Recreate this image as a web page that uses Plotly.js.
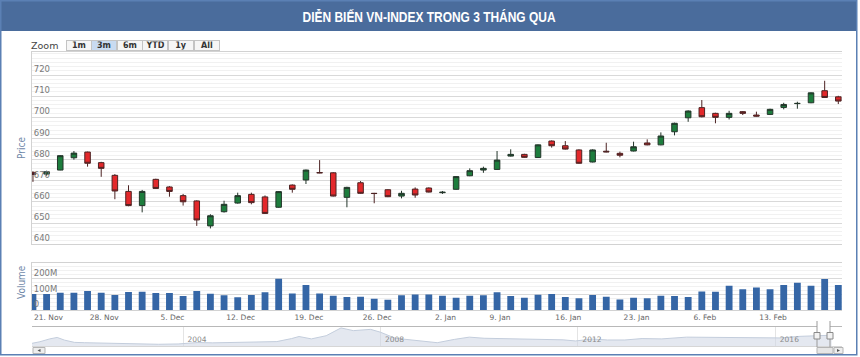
<!DOCTYPE html>
<html><head><meta charset="utf-8">
<script src="https://cdn.plot.ly/plotly-3.0.1.min.js"></script>
<style>html,body{margin:0;padding:0;background:#fff;}#chart{width:860px;height:357px;}</style>
</head><body><div id="chart"></div>
<script>
// ---------- DATA ----------
const dates = [
 '2016-11-21','2016-11-22','2016-11-23','2016-11-24','2016-11-25',
 '2016-11-28','2016-11-29','2016-11-30','2016-12-01','2016-12-02',
 '2016-12-05','2016-12-06','2016-12-07','2016-12-08','2016-12-09',
 '2016-12-12','2016-12-13','2016-12-14','2016-12-15','2016-12-16',
 '2016-12-19','2016-12-20','2016-12-21','2016-12-22','2016-12-23',
 '2016-12-26','2016-12-27','2016-12-28','2016-12-29','2016-12-30',
 '2017-01-03','2017-01-04','2017-01-05','2017-01-06',
 '2017-01-09','2017-01-10','2017-01-11','2017-01-12','2017-01-13',
 '2017-01-16','2017-01-17','2017-01-18','2017-01-19','2017-01-20',
 '2017-01-23','2017-01-24','2017-01-25',
 '2017-02-02','2017-02-03',
 '2017-02-06','2017-02-07','2017-02-08','2017-02-09','2017-02-10',
 '2017-02-13','2017-02-14','2017-02-15','2017-02-16','2017-02-17',
 '2017-02-20'
];
const openP = [674.0,673.2,675.1,680.9,683.6,678.6,672.6,665.0,658.3,670.7,
 667.1,663.0,660.5,648.7,655.4,659.5,663.6,662.4,657.5,668.0,
 670.4,673.9,673.8,662.2,669.1,664.1,665.8,662.8,666.1,666.6,
 664.4,666.0,672.4,675.1,675.4,681.7,682.5,681.0,688.8,686.6,
 684.6,678.9,684.0,683.0,684.1,687.9,687.0,693.2,699.8,704.6,
 701.9,700.0,702.7,701.1,701.4,704.7,706.5,706.9,712.6,709.7];
const highP = [674.5,674.8,682.2,684.1,683.8,679.0,673.2,667.9,665.7,671.0,
 667.5,663.8,660.8,654.2,660.6,664.4,664.4,663.1,665.1,668.3,
 675.3,679.8,674.1,667.2,669.9,664.3,666.0,665.3,666.9,666.9,
 665.2,672.2,675.9,676.7,684.1,684.9,682.8,687.2,689.1,688.8,
 684.9,684.9,688.0,683.8,688.5,689.6,692.9,697.5,703.3,708.2,
 702.2,703.1,703.0,702.7,704.1,706.9,707.4,711.8,717.3,710.2];
const lowP = [669.5,672.4,675.0,680.0,676.7,671.9,661.3,658.0,655.1,666.2,
 662.5,658.3,648.7,647.5,655.0,659.2,658.9,654.4,657.3,664.4,
 668.5,673.6,662.6,657.5,663.9,659.4,662.3,661.7,662.0,664.5,
 663.8,665.8,672.2,673.8,675.2,681.5,680.9,680.8,685.7,684.8,
 678.1,678.7,683.5,681.1,683.9,686.8,686.8,691.5,697.9,700.0,
 697.2,699.0,701.1,700.4,701.1,703.8,704.1,706.7,709.2,706.3];
const closeP = [673.0,674.3,681.9,683.1,678.3,675.9,665.2,658.3,665.0,666.4,
 665.0,660.1,651.5,653.5,658.9,663.0,659.7,654.6,664.9,666.0,
 675.1,673.8,662.8,666.9,664.1,664.0,662.5,664.1,663.3,664.7,
 664.6,672.0,674.8,675.9,679.8,682.5,681.1,687.0,686.6,685.0,
 678.3,684.6,683.7,682.1,686.1,687.0,691.2,697.2,703.0,700.3,
 700.0,701.9,701.9,700.6,703.8,706.1,706.6,711.6,709.4,707.7];
const volumeM = [103,103,112,112,123,112,97,116,118,110,
 110,90,123,105,95,82,97,114,200,107,
 161,107,92,84,86,73,67,95,101,101,
 92,80,92,95,114,90,80,99,103,84,
 77,97,86,69,80,77,92,90,84,120,
 118,155,133,144,133,161,174,155,198,161];
const xTickDates = ['2016-11-21','2016-11-28','2016-12-05','2016-12-12','2016-12-19','2016-12-26',
 '2017-01-03','2017-01-09','2017-01-16','2017-01-23','2017-02-06','2017-02-13'];
const xTickText = ['21. Nov','28. Nov','5. Dec','12. Dec','19. Dec','26. Dec',
 '2. Jan','9. Jan','16. Jan','23. Jan','6. Feb','13. Feb'];
const priceTicks = [640,650,660,670,680,690,700,710,720];
const volTickVals = [0,100,200,300];
const volTickText = ['0','100M','200M',''];
const navYears = [2000.94,2001.1,2001.3,2001.45,2001.6,2001.8,2002.0,2002.5,2003.0,2003.5,
 2003.9,2004.3,2004.6,2005.0,2005.5,2005.9,2006.2,2006.35,2006.6,2006.9,
 2007.2,2007.45,2007.8,2008.0,2008.3,2008.6,2008.9,2009.15,2009.5,2009.8,
 2010.1,2010.5,2010.9,2011.3,2011.7,2011.95,2012.3,2012.6,2012.95,2013.3,
 2013.7,2014.2,2014.5,2014.8,2015.0,2015.5,2015.8,2016.1,2016.5,2016.85,2017.14];
const navValues = [200,300,480,570,400,260,240,200,170,140,
 160,250,230,240,280,310,500,630,480,680,
 1170,1000,1080,900,520,420,320,240,450,590,
 520,500,470,460,420,350,470,410,410,500,
 480,590,580,600,570,590,560,540,640,670,710];
const navTickVals = [2004,2008,2012,2016];
const navTickText = ['2004','2008','2012','2016'];
const zoomButtons = ['1m','3m','6m','YTD','1y','All'];
const selectedButton = '3m';
const titleText = 'DIỄN BIẾN VN-INDEX TRONG 3 THÁNG QUA';

// ---------- LAYOUT HELPERS ----------
const W = 860, H = 357;
const px = x => x / W;
const py = y => 1 - y / H;
const xDom = [px(32), px(842)];
const catRange = [-0.07, 59.27];
const tickFont = {family: 'DejaVu Sans, sans-serif', size: 8.5, color: '#7a7a7a'};
const xFont = {family: 'DejaVu Sans, sans-serif', size: 7.5, color: '#666'};
const narrow = "'Liberation Sans Narrow', 'DejaVu Sans Condensed', 'Liberation Sans', sans-serif";

const traces = [
  {type: 'candlestick', x: dates, open: openP, high: highP, low: lowP, close: closeP,
   xaxis: 'x', yaxis: 'y', whiskerwidth: 0,
   increasing: {fillcolor: '#1d7d3d', line: {color: '#23352a', width: 1}},
   decreasing: {fillcolor: '#e3282b', line: {color: '#4d2323', width: 1}},
   showlegend: false},
  {type: 'bar', x: dates, y: volumeM, xaxis: 'x2', yaxis: 'y2',
   marker: {color: '#3566a6'}, showlegend: false},
  {type: 'scatter', mode: 'lines', x: navYears, y: navValues, xaxis: 'x3', yaxis: 'y3',
   fill: 'tozeroy', fillcolor: 'rgba(205,214,228,0.55)', line: {color: '#c3cddc', width: 1},
   showlegend: false, hoverinfo: 'skip'}
];

const shapes = [
  {type: 'rect', xref: 'paper', yref: 'paper', x0: 0, x1: px(857), y0: py(31), y1: 1,
   fillcolor: '#4a6c9c', line: {width: 0}, layer: 'below'},
  {type: 'rect', xref: 'paper', yref: 'paper', x0: px(0.75), x1: px(856.75), y0: py(354.75), y1: py(0.75),
   line: {color: '#5b80b4', width: 1.5}},
  // navigator outline
  {type: 'line', xref: 'paper', yref: 'paper', x0: px(32), x1: px(817), y0: py(326.5), y1: py(326.5),
   line: {color: '#b8b8b8', width: 1}},
  {type: 'line', xref: 'paper', yref: 'paper', x0: px(830), x1: px(842), y0: py(326.5), y1: py(326.5),
   line: {color: '#b8b8b8', width: 1}},
  {type: 'line', xref: 'paper', yref: 'paper', x0: px(32), x1: px(842), y0: py(346.5), y1: py(346.5),
   line: {color: '#d6d6d6', width: 1}},
  {type: 'line', xref: 'paper', yref: 'paper', x0: px(817), x1: px(817), y0: py(347), y1: py(321),
   line: {color: '#9a9a9a', width: 1}},
  {type: 'line', xref: 'paper', yref: 'paper', x0: px(830), x1: px(830), y0: py(347), y1: py(321),
   line: {color: '#9a9a9a', width: 1}},
  {type: 'rect', xref: 'paper', yref: 'paper', x0: px(814), x1: px(820), y0: py(339), y1: py(332.5),
   fillcolor: '#f2f2f2', line: {color: '#8a8a8a', width: 1}},
  {type: 'rect', xref: 'paper', yref: 'paper', x0: px(827), x1: px(833), y0: py(339), y1: py(332.5),
   fillcolor: '#f2f2f2', line: {color: '#8a8a8a', width: 1}},
  // scrollbar
  {type: 'rect', xref: 'paper', yref: 'paper', x0: px(33), x1: px(45), y0: py(353.5), y1: py(347.5),
   fillcolor: '#eeeeee', line: {color: '#b5b5b5', width: 1}},
  {type: 'rect', xref: 'paper', yref: 'paper', x0: px(817), x1: px(833), y0: py(353.5), y1: py(347.5),
   fillcolor: '#e6e6e6', line: {color: '#b5b5b5', width: 1}},
  {type: 'rect', xref: 'paper', yref: 'paper', x0: px(834), x1: px(843), y0: py(353.5), y1: py(347.5),
   fillcolor: '#eeeeee', line: {color: '#b5b5b5', width: 1}},
  {type: 'path', xref: 'paper', yref: 'paper',
   path: `M ${px(37.5)} ${py(350.5)} L ${px(40.5)} ${py(349)} L ${px(40.5)} ${py(352)} Z`,
   fillcolor: '#555', line: {width: 0}},
  {type: 'path', xref: 'paper', yref: 'paper',
   path: `M ${px(840)} ${py(350.5)} L ${px(837)} ${py(349)} L ${px(837)} ${py(352)} Z`,
   fillcolor: '#555', line: {width: 0}}
];

const annotations = [
  {text: titleText, xref: 'paper', yref: 'paper', x: px(428.5), y: py(16.5), showarrow: false,
   xanchor: 'center', yanchor: 'middle', name: 'title',
   font: {family: 'Liberation Sans, sans-serif', size: 15.5, color: '#ffffff', weight: 'bold'}},
  {text: 'Price', xref: 'paper', yref: 'paper', x: px(21), y: py(148), textangle: -90, showarrow: false,
   xanchor: 'center', yanchor: 'middle',
   font: {family: narrow, size: 10, color: '#6f87a8'}},
  {text: 'Volume', xref: 'paper', yref: 'paper', x: px(21), y: py(282), textangle: -90, showarrow: false,
   xanchor: 'center', yanchor: 'middle',
   font: {family: narrow, size: 10, color: '#6f87a8'}},
  {text: 'Zoom', xref: 'paper', yref: 'paper', x: px(44.5), y: py(45.5), showarrow: false,
   xanchor: 'center', yanchor: 'middle',
   font: {family: 'DejaVu Sans, sans-serif', size: 9.5, color: '#444'}},
  // first x label, justified inside the plot like the original
  {text: xTickText[0], xref: 'x2', yref: 'paper', x: xTickDates[0], y: py(317.5), showarrow: false,
   xanchor: 'left', yanchor: 'middle', xshift: -1, font: xFont}
];
zoomButtons.forEach((b, i) => {
  const cx = 78.5 + i * 25.6;
  annotations.push({text: b, xref: 'paper', yref: 'paper', x: px(cx), y: py(45.5), showarrow: false,
    xanchor: 'center', yanchor: 'middle', width: 23, height: 8, borderpad: 0.5, borderwidth: 1,
    bordercolor: '#c4c4c4', bgcolor: b === selectedButton ? '#c9dbf1' : '#f6f6f6',
    font: {family: 'DejaVu Sans, sans-serif', size: 8, color: '#333', weight: 'bold'}});
});

const layout = {
  width: W, height: H, margin: {l: 0, r: 0, t: 0, b: 0},
  paper_bgcolor: '#ffffff', plot_bgcolor: 'rgba(0,0,0,0)',
  showlegend: false, boxgap: 0.42, bargap: 0.5, dragmode: false,
  xaxis: {domain: xDom, anchor: 'y', type: 'category', categoryorder: 'array', categoryarray: dates,
    range: catRange, rangeslider: {visible: false}, showticklabels: false, showgrid: false,
    showline: true, mirror: true, linecolor: '#d2d2d2', linewidth: 1, ticks: '', zeroline: false},
  yaxis: {domain: [py(244.3), py(52)], anchor: 'x', range: [640, 730.9], tickmode: 'array', tickvals: priceTicks,
    ticklabelposition: 'inside top', tickfont: tickFont, gridcolor: '#d9d9d9', showline: true,
    linecolor: '#d2d2d2', zeroline: false, ticks: '',
    minor: {tick0: 640, dtick: 2, showgrid: true, gridcolor: '#f1f1f1', ticks: ''}},
  xaxis2: {domain: xDom, anchor: 'y2', type: 'category', categoryorder: 'array', categoryarray: dates,
    range: catRange, tickmode: 'array', tickvals: xTickDates.slice(1), ticktext: xTickText.slice(1),
    tickfont: xFont, ticklabelshift: 3, showgrid: false, showline: true, mirror: true,
    linecolor: '#d2d2d2', ticks: '', zeroline: false, tickangle: 0},
  yaxis2: {domain: [py(310.3), py(263)], anchor: 'x2', range: [0, 300], tickmode: 'array',
    tickvals: volTickVals, ticktext: volTickText, ticklabelposition: 'inside top', tickfont: tickFont,
    gridcolor: '#d9d9d9', showline: true, linecolor: '#d2d2d2', zeroline: false, ticks: '',
    minor: {tick0: 0, dtick: 25, showgrid: true, gridcolor: '#f1f1f1', ticks: ''}},
  xaxis3: {domain: xDom, anchor: 'y3', range: [2000.94, 2017.35], tickmode: 'array',
    tickvals: navTickVals, ticktext: navTickText, ticklabelposition: 'inside', ticklabelshift: 14,
    tickfont: {family: 'DejaVu Sans, sans-serif', size: 7.5, color: '#8a8a8a'},
    showgrid: true, gridcolor: '#e4e4e4', showline: false, zeroline: false, ticks: ''},
  yaxis3: {domain: [py(346.5), py(326.5)], anchor: 'x3', range: [0, 1260], visible: false, fixedrange: true},
  shapes: shapes, annotations: annotations
};

Plotly.newPlot('chart', traces, layout, {displayModeBar: false, staticPlot: true}).then(gd => {
  // squeeze the banner title into the condensed width used by the original
  gd.querySelectorAll('.annotation-text').forEach(t => {
    if (t.textContent === titleText) {
      t.setAttribute('textLength', '253');
      t.setAttribute('lengthAdjust', 'spacingAndGlyphs');
    }
  });
});
</script>
</body></html>
